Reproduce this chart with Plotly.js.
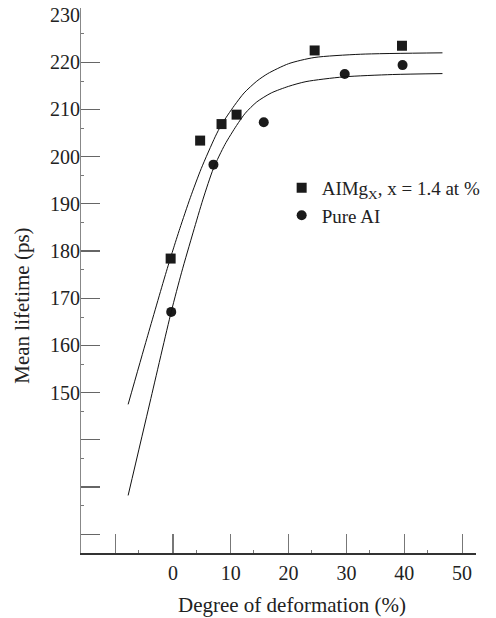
<!DOCTYPE html>
<html>
<head>
<meta charset="utf-8">
<script src="https://cdn.plot.ly/plotly-3.0.1.min.js"></script>
<style>html,body{margin:0;padding:0;background:#fff;}#chart{width:496px;height:618px;}</style>
</head>
<body>
<div id="chart"></div>
<script>
// Measured data points
const almgName = "AIMg<sub>X</sub>, x = 1.4 at %";
const almgX = [-0.4, 4.7, 8.4, 11.0, 24.5, 39.6];
const almgY = [178.4, 203.4, 206.9, 208.9, 222.5, 223.5];

const pureName = "Pure AI";
const pureX = [-0.3, 7.0, 15.7, 29.7, 39.7];
const pureY = [167.1, 198.3, 207.3, 217.5, 219.4];

// Fitted curves
const almgFitX = [-7.75, -4.5, -1.3, 0, 1.2, 3.0, 4.9, 7.3, 8.4, 10.6, 12.3, 14.5, 16.4, 20, 24.4, 32.4, 46.6];
const almgFitY = [147.5, 161.5, 175.0, 180.2, 184.8, 191.3, 197.5, 204.2, 206.8, 210.8, 213.5, 216.0, 217.6, 219.7, 221.0, 221.7, 222.0];
const pureFitX = [-7.75, -4, -0.3, 1.5, 3.5, 5.2, 7.0, 9.0, 11.0, 12.5, 14.5, 17, 20, 23, 29.5, 38, 46.6];
const pureFitY = [128.2, 147.8, 167.1, 175.5, 184.0, 191.0, 197.5, 202.6, 206.6, 209.2, 211.6, 213.5, 214.9, 215.9, 216.9, 217.4, 217.6];

// Axis ticks (marks)
const xTickVals = [-10, 0, 10, 20, 30, 40, 50];
const xMinorVals = [-6, 4, 14, 24, 34, 44];
const yTickVals = [120, 130, 140, 150, 160, 170, 180, 190, 200, 210, 220];
const yMinorVals = [126, 136, 146, 156, 166, 176, 186, 196, 206, 216, 226];
// Axis tick labels
const xLabelVals = [0, 10, 20, 30, 40, 50];
const xLabelText = ["0", "10", "20", "30", "40", "50"];
const yLabelVals = [150, 160, 170, 180, 190, 200, 210, 220, 230];
const yLabelText = ["150", "160", "170", "180", "190", "200", "210", "220", "230"];

const xTitle = "Degree of deformation (%)";
const yTitle = "Mean lifetime (ps)";

const FONT = "Liberation Serif, Times New Roman, serif";
const TICK_SIZE = 20;
const TITLE_SIZE = 21;
const LEGEND_SIZE = 19;
const xRange = [-15.9, 52.4];
const yRange = [116, 231.5];

const lineStyle = {color: "#111", width: 1, shape: "spline", smoothing: 0.7};
const traces = [
  {x: almgFitX, y: almgFitY, mode: "lines", line: lineStyle, showlegend: false, hoverinfo: "skip"},
  {x: pureFitX, y: pureFitY, xaxis: "x2", yaxis: "y2", mode: "lines", line: lineStyle, showlegend: false, hoverinfo: "skip"},
  {x: almgX, y: almgY, name: almgName, mode: "markers", marker: {symbol: "square", size: 10, color: "#1a1a1a"}},
  {x: pureX, y: pureY, name: pureName, mode: "markers", marker: {symbol: "circle", size: 10, color: "#1a1a1a"}}
];

const tickFont = {family: FONT, size: TICK_SIZE, color: "#222"};
const layout = {
  width: 496, height: 618,
  margin: {l: 81, r: 20, t: 8, b: 65},
  paper_bgcolor: "#fff", plot_bgcolor: "#fff",
  font: {family: FONT, color: "#222", size: TICK_SIZE},
  showlegend: true,
  legend: {x: 0.508, y: 0.705, xanchor: "left", yanchor: "top", bgcolor: "rgba(0,0,0,0)",
           font: {family: FONT, size: LEGEND_SIZE, color: "#222"}, tracegroupgap: 0, itemwidth: 30},
  xaxis: {
    range: xRange, showgrid: false, zeroline: false, automargin: false,
    showline: true, linecolor: "#333", linewidth: 1.5,
    tickmode: "array", tickvals: xTickVals, showticklabels: false,
    ticks: "inside", ticklen: 19, tickwidth: 1.2, tickcolor: "#777",
    minor: {tickmode: "array", tickvals: xMinorVals, ticks: "inside", ticklen: 3, tickcolor: "#777", tickwidth: 1}
  },
  xaxis2: {
    overlaying: "x", side: "bottom", anchor: "y", range: xRange, automargin: false,
    showgrid: false, zeroline: false, showline: false,
    tickmode: "array", tickvals: xLabelVals, ticktext: xLabelText, ticks: "",
    tickfont: tickFont, ticklabelstandoff: 6
  },
  yaxis: {
    range: yRange, showgrid: false, zeroline: false, automargin: false,
    showline: true, linecolor: "#888", linewidth: 1.5,
    tickmode: "array", tickvals: yTickVals, showticklabels: false,
    ticks: "inside", ticklen: 19, tickwidth: 1.2, tickcolor: "#666",
    minor: {tickmode: "array", tickvals: yMinorVals, ticks: "inside", ticklen: 3, tickcolor: "#777", tickwidth: 1}
  },
  yaxis2: {
    overlaying: "y", side: "left", anchor: "x", range: yRange, automargin: false,
    showgrid: false, zeroline: false, showline: false,
    tickmode: "array", tickvals: yLabelVals, ticktext: yLabelText, ticks: "",
    tickfont: tickFont
  },
  annotations: [
    {text: xTitle, xref: "paper", yref: "paper", x: (291.7 - 81) / 395, y: -(605 - 553) / 545,
     xanchor: "center", yanchor: "middle", showarrow: false, font: {family: FONT, size: TITLE_SIZE, color: "#222"}},
    {text: yTitle, xref: "paper", yref: "paper", x: -(81 - 21.7) / 395, y: (553 - 306) / 545, textangle: -90,
     xanchor: "center", yanchor: "middle", showarrow: false, font: {family: FONT, size: TITLE_SIZE, color: "#222"}}
  ]
};

Plotly.newPlot("chart", traces, layout, {displayModeBar: false, staticPlot: true});
</script>
</body>
</html>
